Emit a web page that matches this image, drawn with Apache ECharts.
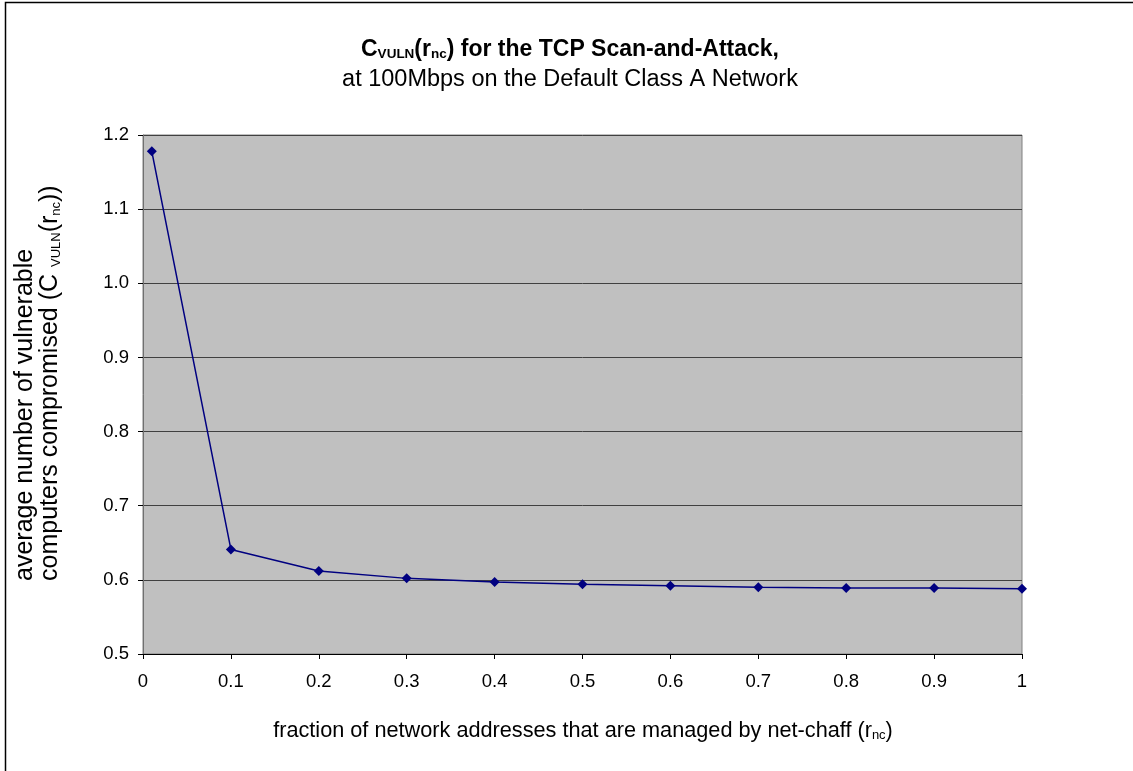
<!DOCTYPE html>
<html>
<head>
<meta charset="utf-8">
<script src="https://cdn.jsdelivr.net/npm/echarts@6/dist/echarts.min.js"></script>
<style>html,body{margin:0;padding:0;background:#fff}#c{width:1133px;height:771px}</style>
</head>
<body>
<div id="c"></div>
<script>
const rncValues = [0.01, 0.1, 0.2, 0.3, 0.4, 0.5, 0.6, 0.7, 0.8, 0.9, 1.0];
const cvulnValues = [1.178, 0.641, 0.612, 0.602, 0.597, 0.594, 0.592, 0.590, 0.589, 0.589, 0.588];
const yTicks = [0.5, 0.6, 0.7, 0.8, 0.9, 1.0, 1.1, 1.2];
const xTicks = [0, 0.1, 0.2, 0.3, 0.4, 0.5, 0.6, 0.7, 0.8, 0.9, 1];

const FONT = '"Liberation Sans", Arial, sans-serif';
const chart = echarts.init(document.getElementById('c'), null, {renderer: 'canvas'});
const seriesData = rncValues.map((x, i) => [x, cvulnValues[i]]);

chart.setOption({
  animation: false,
  backgroundColor: '#ffffff',
  textStyle: {fontFamily: FONT},
  grid: {left: 143, top: 135, right: 111, bottom: 117, show: true, backgroundColor: '#C0C0C0', borderColor: '#808080', borderWidth: 1},
  xAxis: {
    type: 'value', min: 0, max: 1, interval: 0.1,
    axisLine: {lineStyle: {color: '#000', width: 1}},
    axisTick: {show: true, length: 5, lineStyle: {color: '#000'}},
    axisLabel: {color: '#000', fontSize: 18.5, fontFamily: FONT, margin: 18,
      formatter: v => { const t = xTicks.find(k => Math.abs(k - v) < 1e-9); return t === undefined ? '' : String(t); }},
    splitLine: {show: false}
  },
  yAxis: {
    type: 'value', min: 0.5, max: 1.2, interval: 0.1,
    axisLine: {show: true, lineStyle: {color: '#707070', width: 1}},
    axisTick: {show: true, length: 5, lineStyle: {color: '#000'}},
    axisLabel: {color: '#000', fontSize: 18.5, fontFamily: FONT, margin: 14,
      formatter: v => { const t = yTicks.find(k => Math.abs(k - v) < 1e-9); return t === undefined ? '' : t.toFixed(1); }},
    splitLine: {show: true, lineStyle: {color: '#404040', width: 1}}
  },
  series: [{
    type: 'line', data: seriesData, symbol: 'diamond', symbolSize: 10,
    lineStyle: {color: '#000080', width: 1.5},
    itemStyle: {color: '#000080'}
  }],
  graphic: [
    {type: 'rect', shape: {x: 5.5, y: 2.5, width: 2000, height: 2000}, style: {fill: 'none', stroke: '#000', lineWidth: 1.5}, z: 100, silent: true},
    {type: 'text', x: 570, y: 47, style: {
      text: '{b|C}{bs|VULN}{b|(r}{bs|nc}{b|) for the TCP Scan-and-Attack,}',
      align: 'center', verticalAlign: 'middle',
      rich: {
        b: {fontSize: 23, fontWeight: 'bold', fontFamily: FONT, fill: '#000', lineHeight: 28, verticalAlign: 'bottom'},
        bs: {fontSize: 13.5, fontWeight: 'bold', fontFamily: FONT, fill: '#000', lineHeight: 26, verticalAlign: 'bottom'}
      }
    }},
    {type: 'text', x: 570, y: 80, style: {
      text: 'at 100Mbps on the Default Class A Network', align: 'center', verticalAlign: 'middle',
      fontSize: 23.5, fontFamily: FONT, fill: '#000'
    }},
    {type: 'text', x: 583, y: 729, style: {
      text: '{n|fraction of network addresses that are managed by net-chaff (r}{s|nc}{n|)}',
      align: 'center', verticalAlign: 'middle',
      rich: {
        n: {fontSize: 21.7, fontFamily: FONT, fill: '#000', lineHeight: 26, verticalAlign: 'bottom'},
        s: {fontSize: 13, fontFamily: FONT, fill: '#000', lineHeight: 24, verticalAlign: 'bottom'}
      }
    }},
    {type: 'text', x: 38, y: 581, rotation: Math.PI / 2, style: {
      text: '{n|average number of vulnerable}\n{n|computers compromised (C }{s|VULN}{n|(r}{s|nc}{n|))}',
      align: 'left', verticalAlign: 'middle',
      rich: {
        n: {fontSize: 25, fontFamily: FONT, fill: '#000', lineHeight: 25, verticalAlign: 'bottom'},
        s: {fontSize: 13, fontFamily: FONT, fill: '#000', lineHeight: 23, verticalAlign: 'bottom'}
      }
    }}
  ]
});
</script>
</body>
</html>
